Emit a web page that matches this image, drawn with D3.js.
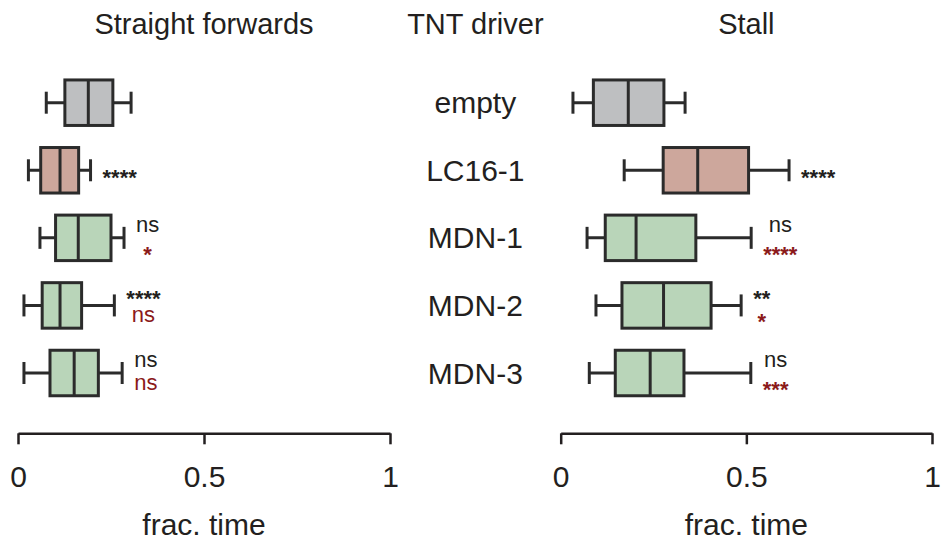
<!DOCTYPE html>
<html>
<head>
<meta charset="utf-8">
<script src="https://cdn.jsdelivr.net/npm/d3@7"></script>
<style>
  html, body { margin: 0; padding: 0; background: #ffffff; }
  svg { display: block; }
  text { font-family: "Liberation Sans", Arial, Helvetica, sans-serif; }
</style>
</head>
<body>
<svg id="chart" width="945" height="542"></svg>
<script>
// ---------- data ----------
const categories = ["empty", "LC16-1", "MDN-1", "MDN-2", "MDN-3"];
const groupType  = ["control", "positive", "test", "test", "test"];

const fwdLo  = [0.076, 0.028, 0.059, 0.016, 0.016];
const fwdQ1  = [0.126, 0.061, 0.101, 0.065, 0.086];
const fwdMed = [0.189, 0.113, 0.162, 0.113, 0.151];
const fwdQ3  = [0.255, 0.163, 0.250, 0.171, 0.216];
const fwdHi  = [0.304, 0.195, 0.285, 0.259, 0.280];

const stallLo  = [0.033, 0.171, 0.071, 0.095, 0.077];
const stallQ1  = [0.088, 0.276, 0.120, 0.165, 0.147];
const stallMed = [0.182, 0.369, 0.203, 0.277, 0.241];
const stallQ3  = [0.278, 0.506, 0.364, 0.405, 0.332];
const stallHi  = [0.335, 0.615, 0.513, 0.486, 0.512];

// significance vs empty (black) and vs LC16-1 (red)
const fwdSigVsEmpty   = ["", "****", "ns", "****", "ns"];
const fwdSigVsLC      = ["", "", "*", "ns", "ns"];
const stallSigVsEmpty = ["", "****", "ns", "**", "ns"];
const stallSigVsLC    = ["", "", "****", "*", "***"];

const xTickValues = [0, 0.5, 1];
const xTickLabels = ["0", "0.5", "1"];
const panelTitles = ["Straight forwards", "Stall"];
const middleTitle = "TNT driver";
const xAxisTitle = "frac. time";

// ---------- styles ----------
const fillColors = { control: "#bebfc1", positive: "#cda79c", test: "#b9d5b9" };
const strokeColor = "#2b2b2b";
const textColor = "#231f20";
const redColor = "#8b1a1a";

const svg = d3.select("#chart");

const y = d3.scalePoint().domain(categories).range([102.7, 373]);
const boxH = 45.5;
const capH = 22;
const axisY = 433.3;

const panels = [
  { title: panelTitles[0], range: [18, 390],
    lo: fwdLo, q1: fwdQ1, med: fwdMed, q3: fwdQ3, hi: fwdHi,
    sigA: fwdSigVsEmpty, sigB: fwdSigVsLC },
  { title: panelTitles[1], range: [560.7, 932],
    lo: stallLo, q1: stallQ1, med: stallMed, q3: stallQ3, hi: stallHi,
    sigA: stallSigVsEmpty, sigB: stallSigVsLC }
];

const annFont = 22;
function isStars(txt) { return /^\*+$/.test(txt); }
function baselineFromCenter(txt, vc) {
  if (isStars(txt)) return vc + 0.58 * annFont;
  return vc + 0.27 * annFont;
}

panels.forEach(p => {
  const x = d3.scaleLinear().domain([0, 1]).range(p.range);
  const g = svg.append("g");

  const rows = categories.map((c, i) => ({
    cat: c, type: groupType[i],
    lo: p.lo[i], q1: p.q1[i], med: p.med[i], q3: p.q3[i], hi: p.hi[i],
    sA: p.sigA[i], sB: p.sigB[i]
  }));

  const rg = g.selectAll("g.row").data(rows).enter().append("g")
    .attr("class", "row");

  // whisker line
  rg.append("line")
    .attr("x1", d => x(d.lo)).attr("x2", d => x(d.hi))
    .attr("y1", d => y(d.cat)).attr("y2", d => y(d.cat))
    .attr("stroke", strokeColor).attr("stroke-width", 3);
  // caps
  rg.append("line")
    .attr("x1", d => x(d.lo)).attr("x2", d => x(d.lo))
    .attr("y1", d => y(d.cat) - capH / 2).attr("y2", d => y(d.cat) + capH / 2)
    .attr("stroke", strokeColor).attr("stroke-width", 3);
  rg.append("line")
    .attr("x1", d => x(d.hi)).attr("x2", d => x(d.hi))
    .attr("y1", d => y(d.cat) - capH / 2).attr("y2", d => y(d.cat) + capH / 2)
    .attr("stroke", strokeColor).attr("stroke-width", 3);
  // box
  rg.append("rect")
    .attr("x", d => x(d.q1)).attr("width", d => x(d.q3) - x(d.q1))
    .attr("y", d => y(d.cat) - boxH / 2).attr("height", boxH)
    .attr("fill", d => fillColors[d.type])
    .attr("stroke", strokeColor).attr("stroke-width", 3);
  // median
  rg.append("line")
    .attr("x1", d => x(d.med)).attr("x2", d => x(d.med))
    .attr("y1", d => y(d.cat) - boxH / 2).attr("y2", d => y(d.cat) + boxH / 2)
    .attr("stroke", strokeColor).attr("stroke-width", 3);

  // annotations
  rows.forEach(d => {
    if (!d.sA && !d.sB) return;
    const cy = y(d.cat);
    const lines = [];
    if (d.sA && d.sB) {
      lines.push({ t: d.sA, c: textColor, vc: cy - 12 });
      lines.push({ t: d.sB, c: redColor, vc: cy + 11 });
    } else {
      lines.push({ t: d.sA || d.sB, c: d.sA ? textColor : redColor, vc: cy + 2 });
    }
    const nodes = lines.map(l => g.append("text")
      .attr("y", baselineFromCenter(l.t, l.vc))
      .attr("text-anchor", "middle")
      .attr("font-size", annFont)
      .attr("font-weight", isStars(l.t) ? "bold" : "normal")
      .attr("fill", l.c)
      .text(l.t));
    const maxW = d3.max(nodes, n => n.node().getComputedTextLength());
    const cx = x(d.hi) + 12 + maxW / 2;
    nodes.forEach(n => n.attr("x", cx));
  });

  // axis
  const axis = d3.axisBottom(x)
    .tickValues(xTickValues)
    .tickFormat((v, i) => xTickLabels[i])
    .tickSize(11)
    .tickSizeOuter(0)
    .tickPadding(21);
  const ag = g.append("g").attr("transform", `translate(0,${axisY})`).call(axis);
  ag.select(".domain").attr("stroke", textColor).attr("stroke-width", 2.5);
  ag.selectAll(".tick line").attr("stroke", textColor).attr("stroke-width", 2.5);
  ag.selectAll(".tick text")
    .attr("fill", textColor)
    .attr("font-size", 30)
    .attr("font-family", '"Liberation Sans", Arial, sans-serif');

  const mid = (p.range[0] + p.range[1]) / 2;
  g.append("text")
    .attr("x", mid).attr("y", 535)
    .attr("text-anchor", "middle")
    .attr("font-size", 30)
    .attr("fill", textColor)
    .text(xAxisTitle);

  g.append("text")
    .attr("x", mid).attr("y", 33.5)
    .attr("text-anchor", "middle")
    .attr("font-size", 29)
    .attr("fill", textColor)
    .text(p.title);
});

// middle column: driver labels
const midX = (panels[0].range[1] + panels[1].range[0]) / 2;
svg.append("text")
  .attr("x", midX).attr("y", 33.5)
  .attr("text-anchor", "middle")
  .attr("font-size", 29)
  .attr("fill", textColor)
  .text(middleTitle);

svg.selectAll("text.rowlabel").data(categories).enter().append("text")
  .attr("class", "rowlabel")
  .attr("x", midX)
  .attr("y", d => y(d) + 10.5)
  .attr("text-anchor", "middle")
  .attr("font-size", 30)
  .attr("fill", textColor)
  .text(d => d);
</script>
</body>
</html>
